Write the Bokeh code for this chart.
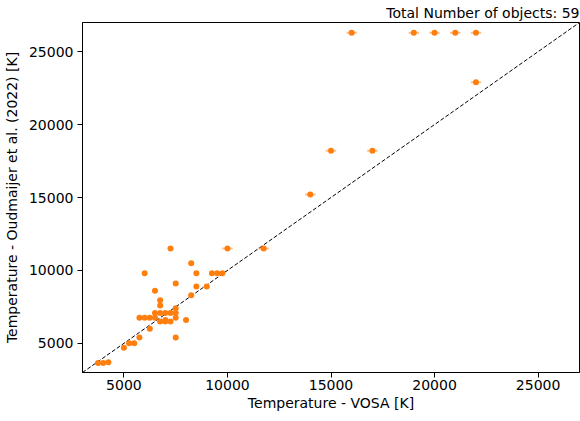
from bokeh.plotting import figure
from bokeh.models import Range1d, FixedTicker
from bokeh.embed import file_html
from bokeh.resources import INLINE

# ---- data ----
t_vosa = [3750, 4000, 4250, 5000, 5250, 5500, 5750, 5750, 6000, 6250,
          6500, 6250, 6500, 6750, 7000, 7250, 7500, 7500, 7500, 6750,
          7000, 7000, 7250, 8000, 7500, 6750, 6750, 6500, 6000, 7250,
          7500, 8250, 8250, 8500, 8500, 9000, 9250, 9500, 9750, 10000,
          11750, 14000, 15000, 17000, 16000, 19000, 20000, 21000, 22000, 22000]
t_oud = [3650, 3650, 3700, 4700, 5000, 5000, 5400, 6750, 6750, 6750,
         6750, 6000, 7080, 7080, 7080, 7080, 7080, 7400, 6750, 6500,
         6600, 6500, 6500, 6600, 5400, 7600, 7950, 8600, 9800, 11500,
         9100, 10500, 8300, 9800, 8900, 8900, 9800, 9800, 9800, 11500,
         11500, 15200, 18200, 18200, 26300, 26300, 26300, 26300, 26300, 22900]
t_vosa_err = [125] * 39 + [250] * 11
axis_limits = [3000, 27000]
tick_values = [5000, 10000, 15000, 20000, 25000]
n_objects = 59

FONT = "DejaVu Sans"
ORANGE = "#ff7f0e"
FS = "14px"

p = figure(frame_width=497, frame_height=350, output_backend="svg", toolbar_location=None,
           x_range=Range1d(*axis_limits), y_range=Range1d(*axis_limits),
           min_border_left=74, min_border_right=1, min_border_top=17, min_border_bottom=30)

p.title.text = f"Total Number of objects: {n_objects}"
p.title.align = "right"
p.title.text_font = FONT
p.title.text_font_size = FS
p.title.text_font_style = "normal"
p.title.text_color = "black"
p.title.standoff = 4
p.title.offset = 0

# diagonal
p.line(axis_limits, axis_limits, line_color="black", line_dash="4 2", line_width=1)

# error bars
x0 = [x - e for x, e in zip(t_vosa, t_vosa_err)]
x1 = [x + e for x, e in zip(t_vosa, t_vosa_err)]
p.segment(x0=x0, y0=t_oud, x1=x1, y1=t_oud, line_color=ORANGE, line_alpha=0.5, line_width=2)

p.scatter(t_vosa, t_oud, size=6, fill_color=ORANGE, line_color=None)

p.xgrid.grid_line_color = None
p.ygrid.grid_line_color = None
p.outline_line_color = "black"
p.outline_line_alpha = 1
p.outline_line_width = 1

p.xaxis.axis_label = "Temperature - VOSA [K]"
p.yaxis.axis_label = "Temperature - Oudmaijer et al. (2022) [K]"
for ax in (p.xaxis, p.yaxis):
    ax.ticker = FixedTicker(ticks=tick_values)
    ax.minor_tick_line_color = None
    ax.major_tick_out = 5
    ax.major_tick_in = 0
    ax.major_tick_line_color = "black"
    ax.axis_line_color = "black"
    ax.major_label_text_font = FONT
    ax.major_label_text_font_size = FS
    ax.major_label_text_color = "black"
    ax.axis_label_text_font = FONT
    ax.axis_label_text_font_size = FS
    ax.axis_label_text_font_style = "normal"
    ax.axis_label_text_color = "black"
p.xaxis.major_label_standoff = 2
p.xaxis.axis_label_standoff = 2
p.yaxis.major_label_standoff = 4
p.yaxis.axis_label_standoff = 6
p.yaxis.major_label_orientation = "horizontal"

open("out.html", "w").write(file_html(p, INLINE))
